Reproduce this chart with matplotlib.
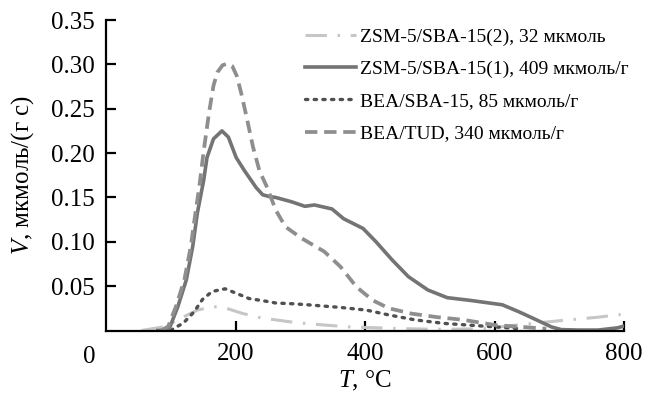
import matplotlib
matplotlib.use("Agg")
import matplotlib.pyplot as plt

plt.rcParams['font.family'] = ['Liberation Serif', 'DejaVu Serif']
plt.rcParams['mathtext.fontset'] = 'custom'
plt.rcParams['mathtext.it'] = 'Liberation Serif:italic'
plt.rcParams['mathtext.rm'] = 'Liberation Serif'

labels = ["ZSM-5/SBA-15(2), 32 мкмоль",
          "ZSM-5/SBA-15(1), 409 мкмоль/г",
          "BEA/SBA-15, 85 мкмоль/г",
          "BEA/TUD, 340 мкмоль/г"]

t_zsm2 = [55, 92, 121, 141, 166, 186, 212, 241, 262, 292, 307, 340, 377, 420, 462,
          500, 540, 580, 620, 660, 700, 730, 760, 795]
v_zsm2 = [0, 0.0045, 0.0158, 0.023, 0.027, 0.025, 0.019, 0.014, 0.012, 0.009, 0.008,
          0.006, 0.004, 0.003, 0.002, 0.0015, 0.0015, 0.002, 0.005, 0.008, 0.011,
          0.013, 0.015, 0.018]

t_zsm1 = [80, 92, 99, 111, 124, 134, 141, 151, 156, 166, 179, 189, 201, 214, 232, 242,
          252, 262, 287, 307, 322, 349, 367, 397, 417, 442, 467, 497, 527, 562, 592,
          612, 638, 663, 688, 703, 730, 760, 790, 800]
v_zsm1 = [0, 0, 0.0045, 0.027, 0.057, 0.095, 0.132, 0.170, 0.195, 0.216, 0.225, 0.218,
          0.195, 0.180, 0.161, 0.153, 0.151, 0.150, 0.145, 0.140, 0.1415, 0.137, 0.126,
          0.115, 0.100, 0.0795, 0.0607, 0.0457, 0.037, 0.034, 0.031, 0.029, 0.021,
          0.0126, 0.004, 0.001, 0.0005, 0.0005, 0.003, 0.005]

t_bea_sba = [100, 106, 119, 136, 149, 164, 184, 201, 221, 247, 262, 292, 311, 362, 402,
             437, 477, 522, 562, 602, 640]
v_bea_sba = [0, 0.003, 0.008, 0.021, 0.035, 0.044, 0.047, 0.042, 0.036, 0.033, 0.031,
             0.030, 0.029, 0.026, 0.023, 0.0175, 0.012, 0.008, 0.006, 0.004, 0.002]

t_bea_tud = [85, 96, 108, 121, 131, 138, 144, 151, 159, 166, 172, 180, 188, 195, 202,
             209, 217, 227, 237, 249, 262, 277, 302, 337, 362, 387, 412, 437, 472, 512,
             552, 602, 652, 680]
v_bea_tud = [0, 0.0045, 0.027, 0.057, 0.095, 0.132, 0.1615, 0.203, 0.245, 0.276, 0.291,
             0.299, 0.301, 0.298, 0.287, 0.267, 0.241, 0.207, 0.180, 0.161, 0.136, 0.117,
             0.104, 0.089, 0.072, 0.049, 0.034, 0.025, 0.019, 0.015, 0.012, 0.006,
             0.0035, 0.002]

x_ticks = [200, 400, 600, 800]
y_ticks = [0.05, 0.10, 0.15, 0.20, 0.25, 0.30, 0.35]

fig = plt.figure(figsize=(6.49, 3.95), dpi=100)
ax = fig.add_axes([106/649, 1 - 330.5/395, (624-106)/649, (330.5-20)/395])

ax.plot(t_zsm2, v_zsm2, color='#c6c6c6', lw=2.2, linestyle=(0, (7, 3.5, 0.8, 3.5)),
        label=labels[0])
ax.plot(t_zsm1, v_zsm1, color='#747474', lw=2.6, linestyle='-', label=labels[1])
ax.plot(t_bea_sba, v_bea_sba, color='#505050', lw=2.4, linestyle=(0, (0.7, 1.9)),
        dash_capstyle='round', label=labels[2])
ax.plot(t_bea_tud, v_bea_tud, color='#8e8e8e', lw=2.7, linestyle=(0, (3.3, 1.8)),
        label=labels[3])

ax.set_xlim(0, 800)
ax.set_ylim(0, 0.35)
ax.set_xticks(x_ticks)
ax.set_xticklabels([str(v) for v in x_ticks])
ax.set_yticks(y_ticks)
ax.set_yticklabels([f"{v:.2f}" for v in y_ticks])
ax.spines['top'].set_visible(False)
ax.spines['right'].set_visible(False)
for s in ['left', 'bottom']:
    ax.spines[s].set_linewidth(1.6)
ax.tick_params(direction='in', length=7, width=1.6, labelsize=18)
ax.tick_params(axis='x', pad=9)
ax.tick_params(axis='y', pad=8)

ax.set_xlabel("$T$, °C", fontsize=18, labelpad=3)
ax.set_ylabel("$V$, мкмоль/(г с)", fontsize=18, labelpad=11)
fig.text(89/649, 1 - 357/395, "0", fontsize=18, ha='center', va='center')

ax.legend(loc='upper left', bbox_to_anchor=(305/649, 1 - 28/395),
          bbox_transform=fig.transFigure, frameon=False, fontsize=14,
          borderpad=0, borderaxespad=0, handlelength=2.6, handletextpad=0.25,
          labelspacing=0.75)

fig.savefig("out.png", dpi=100)
